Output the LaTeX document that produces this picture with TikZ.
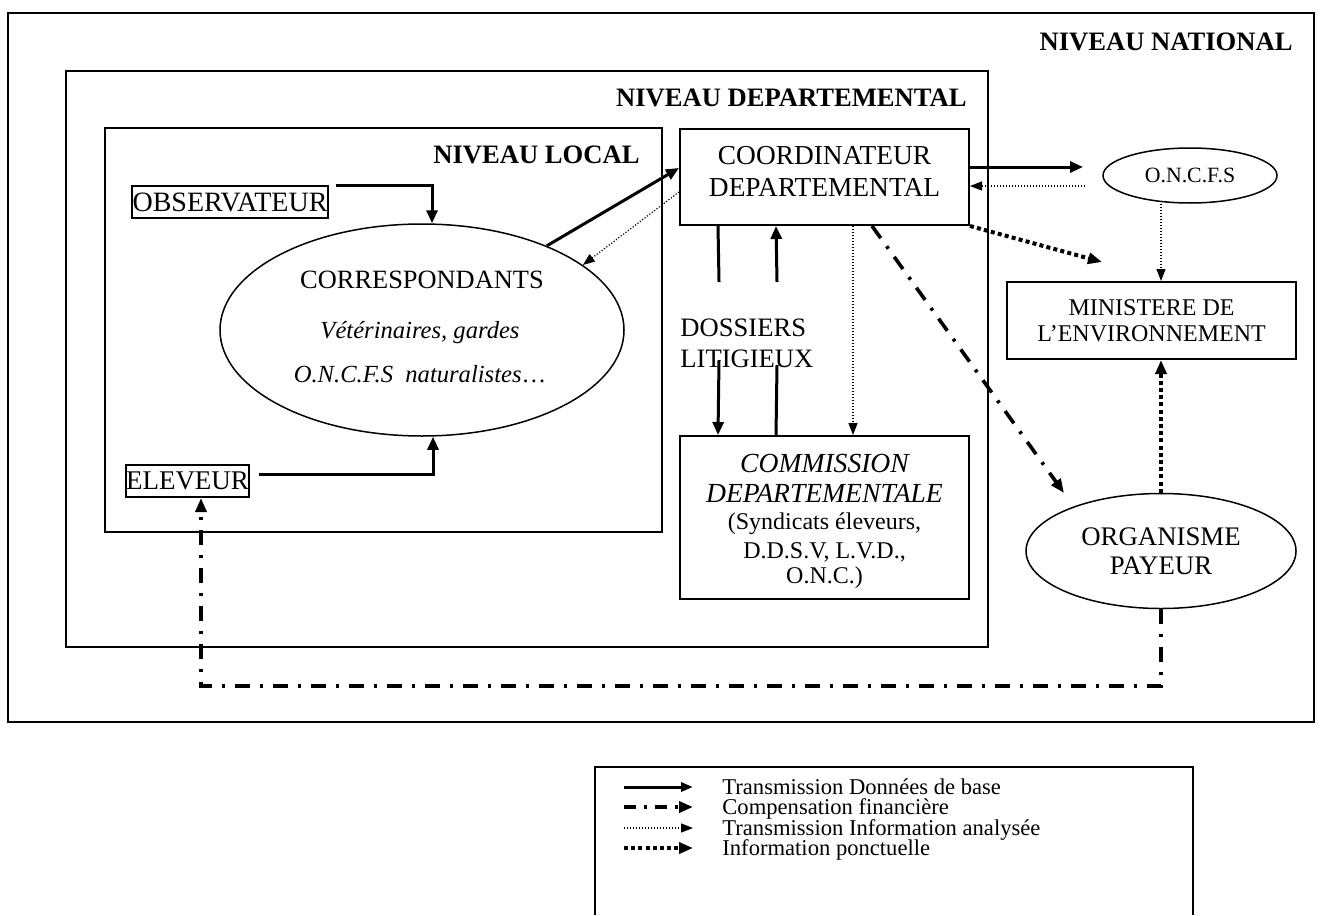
\documentclass[tikz,border=0pt]{standalone}
\usepackage{fontspec}
\setmainfont{Liberation Serif}
\usetikzlibrary{arrows.meta,shapes.geometric}
\newcommand\mainsz{\fontsize{13.7}{16}\selectfont}
\newcommand\headsz{\fontsize{13.3}{16}\selectfont}
\newcommand\legsz{\fontsize{11.3}{12}\selectfont}
\begin{document}
\begin{tikzpicture}[x=0.5pt,y=-0.5pt,
  frame/.style={draw, line width=0.8pt},
  box/.style={draw, line width=1pt, inner sep=0pt, align=center},
  ell/.style={draw, ellipse, line width=0.75pt, inner sep=0pt, align=center},
  head/.style={anchor=east, inner sep=0pt, font=\headsz\bfseries},
  txt/.style={inner sep=0pt},
  base/.style={line width=1.5pt, -{Triangle[length=6.5pt,width=5.5pt]}},
  baseline/.style={line width=1.5pt},
  comp/.style={line width=1.8pt, dash pattern=on 7.5pt off 5pt on 1.5pt off 5pt, -{Triangle[length=7pt,width=5.5pt]}},
  anal/.style={line width=0.6pt, dash pattern=on 0.6pt off 0.9pt, -{Triangle[length=6pt,width=4.5pt]}},
  ponc/.style={line width=2pt, dash pattern=on 2pt off 1.6pt, -{Triangle[length=7pt,width=5.5pt]}},
  legtext/.style={anchor=west, inner sep=0pt, text height=7.6pt, text depth=2.2pt, font=\legsz}]
\useasboundingbox (0,0) rectangle (1320,915);

% level frames
\draw[frame] (8,13) rectangle (1314,722);
\draw[frame] (66,71) rectangle (988,647);
\draw[frame] (105,128) rectangle (662,532);
\node[head] (hnat) at (1293,42) {NIVEAU NATIONAL};
\node[head] (hdep) at (967,98) {NIVEAU DEPARTEMENTAL};
\node[head] (hloc) at (640,155) {NIVEAU LOCAL};

% local level
\node[box, minimum width=98pt, minimum height=16pt, font=\fontsize{14}{16}\selectfont] (obs) at (230,202) {OBSERVATEUR};
\node[box, minimum width=61.5pt, minimum height=16pt, font=\fontsize{13.5}{16}\selectfont] (elev) at (187.5,481) {ELEVEUR};
\node[ell, minimum width=202pt, minimum height=106pt] (corr) at (422,330) {};
\node[txt, font=\fontsize{13.2}{16}\selectfont] (corrt) at (422,280) {CORRESPONDANTS};
\node[txt, font=\fontsize{12.3}{16}\selectfont\itshape] (corri1) at (420,333) {Vétérinaires, gardes};
\node[txt, font=\fontsize{12.3}{16}\selectfont\itshape] (corri2) at (420,374) {O.N.C.F.S\ \ naturalistes{\upshape …}};

% departmental level
\node[box, minimum width=144.5pt, minimum height=48pt] (coord) at (824.5,177) {};
\node[align=center, font=\mainsz] (coordt) at (824.5,171) {COORDINATEUR\\DEPARTEMENTAL};
\node[box, minimum width=144.5pt, minimum height=81.5pt] (comm) at (824.5,517.5) {};
\node[txt, font=\fontsize{13.8}{15}\selectfont\itshape] (comm1) at (824.5,463) {COMMISSION};
\node[txt, font=\fontsize{13.8}{15}\selectfont\itshape] (comm2) at (824.5,493) {DEPARTEMENTALE};
\node[txt, font=\fontsize{12}{14}\selectfont] (comm3) at (824.5,524) {(Syndicats éleveurs,};
\node[txt, font=\fontsize{12}{14}\selectfont] (comm4) at (824.5,552) {D.D.S.V, L.V.D.,};
\node[txt, font=\fontsize{12}{14}\selectfont] (comm5) at (824.5,578) {O.N.C.)};
\node[anchor=west, align=left, inner sep=0pt, font=\fontsize{13.3}{15.5}\selectfont] (doss) at (680,343) {DOSSIERS\\LITIGIEUX};

% national level
\node[ell, minimum width=87pt, minimum height=27.5pt, font=\fontsize{10.9}{12}\selectfont] (oncfs) at (1190,175.5) {O.N.C.F.S};
\node[box, minimum width=144.5pt, minimum height=38.5pt, font=\fontsize{12}{13}\selectfont] (mini) at (1151.5,320.5) {MINISTERE DE\\L’ENVIRONNEMENT};
\node[ell, minimum width=135pt, minimum height=57.5pt, font=\fontsize{13.4}{14.5}\selectfont] (org) at (1161,551) {ORGANISME\\PAYEUR};

% free ends
\coordinate (oncfsin) at (1083,167);
\coordinate (oncfsout) at (1085,186);
\coordinate (miniin) at (1102,262);
\coordinate (orgin) at (1064,493);
\coordinate (d1top) at (719,282);
\coordinate (d1bot) at (719,360);
\coordinate (d2top) at (777,282);
\coordinate (d2bot) at (777,365);
\coordinate (ret) at (201,686);

% connectors: local
\draw[base] ([xshift=3.5pt]obs.north east) -| ([xshift=5pt]corr.north);
\draw[base] ([xshift=4.5pt,yshift=3.5pt]elev.east) -| ([xshift=5.5pt]corr.south);
\draw[base] (corr.34) -- ([yshift=4.5pt]coord.west);
\draw[anal] ([yshift=-7.5pt]coord.west) -- (corr.22);

% connectors: coordinator / commission
\draw[baseline] ([xshift=19.5pt]coord.south west) -- (d1top);
\draw[base] (d1bot) -- ([xshift=19.5pt]comm.north west);
\draw[baseline] ([xshift=48.5pt]comm.north west) -- (d2bot);
\draw[base] (d2top) -- ([xshift=48.5pt]coord.south west);
\draw[anal] ([xshift=87pt]coord.south west) -- ([xshift=87pt]comm.north west);

% connectors: national
\draw[base] ([yshift=5pt]coord.east) -- (oncfsin);
\draw[anal] (oncfsout) -- ([yshift=-4.5pt]coord.east);
\draw[ponc] (coord.south east) -- (miniin);
\draw[comp] ([xshift=96.5pt]coord.south west) -- (orgin);
\draw[anal] ([xshift=-14.5pt]oncfs.south) -- ([xshift=4.75pt]mini.north);
\draw[ponc] (org.north) -- (org.north |- mini.south);
\draw[comp] (org.south) |- (ret) -- ([xshift=6.75pt]elev.south);

% legend
\draw[frame] (595,915) -- (595,767) -- (1193,767) -- (1193,915);
\coordinate (l1a) at (624,787); \coordinate (l1b) at (693,787);
\coordinate (l2a) at (624,807); \coordinate (l2b) at (693,807);
\coordinate (l3a) at (624,828); \coordinate (l3b) at (693,828);
\coordinate (l4a) at (624,848); \coordinate (l4b) at (693,848);
\draw[base, -{Triangle[length=6pt,width=4.5pt]}] (l1a) -- (l1b);
\draw[comp, dash pattern=on 6pt off 4pt on 1.5pt off 4pt] (l2a) -- (l2b);
\draw[anal] (l3a) -- (l3b);
\draw[ponc] (l4a) -- (l4b);
\node[legtext] (t1) at (722,789) {Transmission Données de base};
\node[legtext] (t2) at (722,809) {Compensation financière};
\node[legtext] (t3) at (722,830) {Transmission Information analysée};
\node[legtext] (t4) at (722,850) {Information ponctuelle};
\end{tikzpicture}
\end{document}
